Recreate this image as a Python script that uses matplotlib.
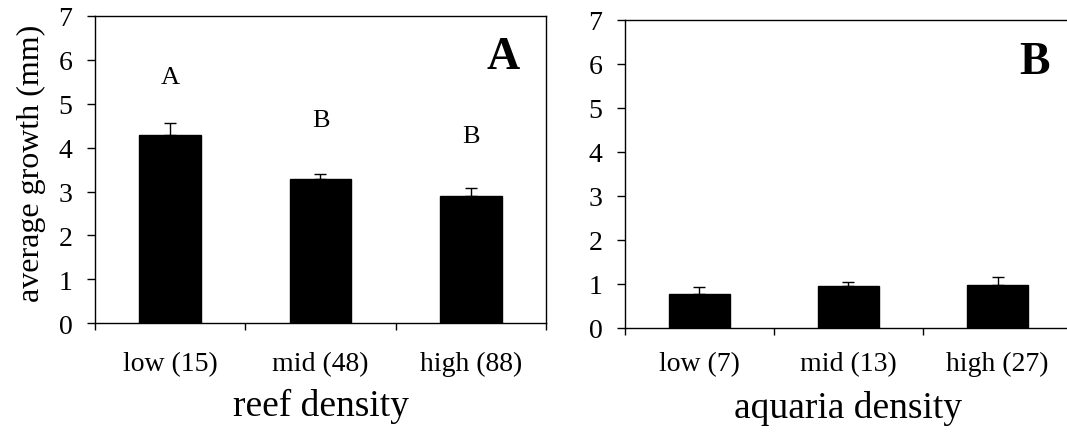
import numpy as np
import matplotlib
matplotlib.use("Agg")
import matplotlib.pyplot as plt
from matplotlib.ticker import FixedLocator, NullFormatter

plt.rcParams['font.family'] = ['Liberation Serif', 'DejaVu Serif']

# reef (panel A)
reef_labels = ["low (15)", "mid (48)", "high (88)"]
reef_mean = [4.30, 3.29, 2.89]
reef_err = [0.27, 0.12, 0.20]
reef_letters = ["A", "B", "B"]
reef_letter_y = [5.62, 4.64, 4.26]

# aquaria (panel B)
aq_labels = ["low (7)", "mid (13)", "high (27)"]
aq_mean = [0.77, 0.96, 0.98]
aq_err = [0.15, 0.09, 0.17]

fig = plt.figure(figsize=(10.67, 4.35), dpi=100)
ax_a = fig.add_axes([0.089, 0.2545, 0.4227, 0.7065])
ax_b = fig.add_axes([0.5857, 0.2437, 0.4190, 0.7087])


def draw_panel(ax, labels, means, errs, xlabel, tag, tag_xy, tpad, lpad):
    x = np.arange(1, len(means) + 1)
    ax.bar(x, means, width=0.41, color='black', edgecolor='black', zorder=2)
    ax.errorbar(x, means, yerr=[np.zeros(len(errs)), errs], fmt='none',
                ecolor='black', elinewidth=1.0, capsize=4, capthick=1.0, zorder=3)
    ax.set_xlim(0.5, len(means) + 0.5)
    ax.set_ylim(0, 7)
    ax.set_yticks(range(0, 8))
    # ticks between categories, labels centred under bars
    ax.xaxis.set_major_locator(FixedLocator(np.arange(0.5, len(means) + 1, 1.0)))
    ax.xaxis.set_major_formatter(NullFormatter())
    ax.xaxis.set_minor_locator(FixedLocator(x))
    ax.set_xticklabels(labels, minor=True)
    ax.tick_params(axis='x', which='major', direction='out', length=5, width=1.0)
    ax.tick_params(axis='x', which='minor', length=0, pad=tpad, labelsize=20)
    ax.tick_params(axis='y', direction='out', length=5.8, width=1.0, pad=10.5, labelsize=20)
    for s in ax.spines.values():
        s.set_linewidth(1.0)
    ax.set_xlabel(xlabel, fontsize=27, labelpad=lpad)
    ax.text(tag_xy[0], tag_xy[1], tag, fontsize=33, fontweight='bold',
            ha='center', va='center')


draw_panel(ax_a, reef_labels, reef_mean, reef_err, "reef density", "A", (3.213, 6.07), 20, 8.3)
draw_panel(ax_b, aq_labels, aq_mean, aq_err, "aquaria density", "B", (3.247, 6.04), 16.6, 10)

for xi, (lt, ly) in enumerate(zip(reef_letters, reef_letter_y), start=1):
    ax_a.text(xi, ly, lt, fontsize=19, ha='center', va='center')

ax_a.set_ylabel("average growth (mm)", fontsize=23)
ax_a.yaxis.set_label_coords(-0.108, 0.523)

fig.savefig("out.png", dpi=100)
